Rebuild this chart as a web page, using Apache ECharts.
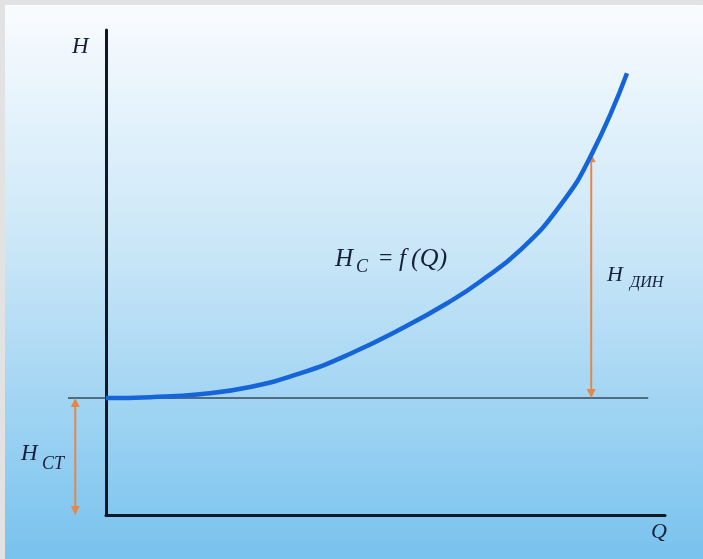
<!DOCTYPE html>
<html>
<head>
<meta charset="utf-8">
<script src="https://cdn.jsdelivr.net/npm/echarts@6/dist/echarts.min.js"></script>
<style>
  html, body { margin: 0; padding: 0; }
  #chart { width: 703px; height: 559px; }
</style>
</head>
<body>
<div id="chart"></div>
<script>
// system curve H = f(Q) (axis units 0..100)
const flowQ = [0, 7.9, 16.8, 25.8, 34.7, 43.6, 53.5, 61.5, 66.9, 74.1, 81.3, 86.8, 93.2]
const headH = [24.1, 24.3, 24.9, 26.4, 29.2, 33.2, 38.8, 44.0, 48.1, 54.6, 63.9, 74.2, 91.1]
// static head level line: [from Q, to Q, H]
const staticLine = [[-6.8, 97.0, 24.1]]
// arrows: [Q, from H, to H]  (H_ст on the left, H_дин on the right)
const arrows = [
  [-5.5, 0, 24.1],
  [86.8, 24.1, 74.6]
]

const chart = echarts.init(document.getElementById('chart'))
const serif = '"Liberation Serif", "DejaVu Serif", serif'
const ink = '#16203a'
const orange = '#e5874a'

function txt(x, y, text, size, style) {
  return {
    type: 'text',
    x: x,
    y: y,
    silent: true,
    style: {
      text: text,
      font: (style || 'italic') + ' ' + size + 'px ' + serif,
      fill: ink,
      align: 'left',
      verticalAlign: 'middle'
    }
  }
}

function renderLevel(params, api) {
  const a = api.coord([api.value(0), api.value(2)])
  const b = api.coord([api.value(1), api.value(2)])
  return {
    type: 'line',
    shape: { x1: a[0], y1: a[1], x2: b[0], y2: b[1] },
    style: { stroke: '#34495e', lineWidth: 1.5 }
  }
}

function renderArrow(params, api) {
  const lo = api.coord([api.value(0), api.value(1)])
  const hi = api.coord([api.value(0), api.value(2)])
  const w = 4.5
  const len = 9
  return {
    type: 'group',
    children: [
      {
        type: 'line',
        shape: { x1: lo[0], y1: lo[1] - 2, x2: hi[0], y2: hi[1] + 2 },
        style: { stroke: orange, lineWidth: 2 }
      },
      {
        type: 'polygon',
        shape: { points: [[hi[0], hi[1]], [hi[0] - w, hi[1] + len], [hi[0] + w, hi[1] + len]] },
        style: { fill: orange }
      },
      {
        type: 'polygon',
        shape: { points: [[lo[0], lo[1]], [lo[0] - w, lo[1] - len], [lo[0] + w, lo[1] - len]] },
        style: { fill: orange }
      }
    ]
  }
}

const option = {
  animation: false,
  backgroundColor: {
    type: 'linear', x: 0, y: 0, x2: 0, y2: 1,
    colorStops: [
      { offset: 0, color: '#fafcfe' },
      { offset: 0.45, color: '#c9e6f7' },
      { offset: 1, color: '#78c2ee' }
    ]
  },
  grid: { left: 106, top: 30, right: 38, bottom: 44 },
  xAxis: {
    type: 'value',
    min: 0,
    max: 100,
    axisLine: { show: true, lineStyle: { color: '#101828', width: 3 } },
    axisTick: { show: false },
    axisLabel: { show: false },
    splitLine: { show: false }
  },
  yAxis: {
    type: 'value',
    min: 0,
    max: 100,
    axisLine: { show: true, lineStyle: { color: '#101828', width: 3 } },
    axisTick: { show: false },
    axisLabel: { show: false },
    splitLine: { show: false }
  },
  series: [
    {
      type: 'custom',
      clip: false,
      silent: true,
      renderItem: renderLevel,
      data: staticLine,
      z: 2
    },
    {
      type: 'custom',
      clip: false,
      silent: true,
      renderItem: renderArrow,
      data: arrows,
      z: 3
    },
    {
      type: 'line',
      smooth: 0.5,
      showSymbol: false,
      lineStyle: { color: '#1565d8', width: 4.5 },
      data: flowQ.map((q, i) => [q, headH[i]]),
      z: 4
    }
  ],
  graphic: [
    { type: 'rect', silent: true, shape: { x: 0, y: 0, width: 703, height: 5 }, style: { fill: '#e2e2e2' } },
    { type: 'rect', silent: true, shape: { x: 0, y: 0, width: 5, height: 559 }, style: { fill: '#e2e2e2' } },
    txt(72, 47, 'H', 23),
    txt(651, 532, 'Q', 22),
    txt(335, 259, 'H', 25),
    txt(356, 267, 'C', 18),
    txt(379, 259, '=', 24, 'normal'),
    txt(399, 259, 'f', 25),
    txt(411, 259, '(Q)', 26),
    txt(607, 275, 'H', 22),
    txt(630, 283, 'ДИН', 16),
    txt(21, 454, 'H', 23),
    txt(42, 464, 'CT', 18)
  ]
}

chart.setOption(option)
</script>
</body>
</html>
